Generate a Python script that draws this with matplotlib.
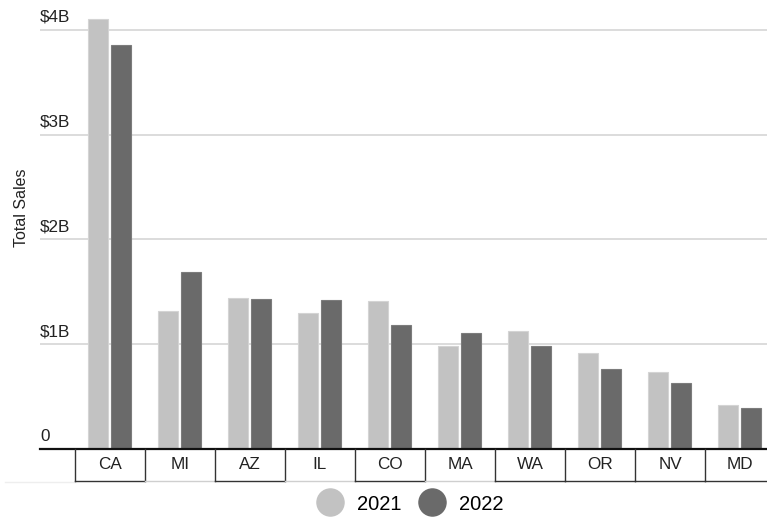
import matplotlib
matplotlib.use("Agg")
import matplotlib.pyplot as plt
from matplotlib.lines import Line2D
import matplotlib.transforms as mtransforms
import numpy as np

plt.rcParams['font.family'] = ['Liberation Sans', 'DejaVu Sans']

states = ["CA", "MI", "AZ", "IL", "CO", "MA", "WA", "OR", "NV", "MD"]
sales_2021 = [4.10, 1.32, 1.44, 1.30, 1.41, 0.98, 1.13, 0.92, 0.73, 0.42]
sales_2022 = [3.855, 1.69, 1.43, 1.42, 1.18, 1.11, 0.985, 0.765, 0.63, 0.39]
years = ["2021", "2022"]
ytick_values = [0, 1, 2, 3, 4]
ytick_labels = ["0", "$1B", "$2B", "$3B", "$4B"]

c21 = "#c2c2c2"
c22 = "#6a6a6a"

fig = plt.figure(figsize=(7.67, 5.17), dpi=100)
ax = fig.add_axes([40 / 767, 68 / 517, 727 / 767, 449 / 517])

x = np.arange(len(states))
w = 0.285
ax.bar(x - 0.165, sales_2021, width=w, color=c21, edgecolor="#d4d4d4", linewidth=0.8, zorder=3)
ax.bar(x + 0.155, sales_2022, width=w, color=c22, edgecolor="#7c7c7c", linewidth=0.8, zorder=3)

ax.set_xlim(-1, -1 + 727 / 70)
ax.set_ylim(0, 449 / 104.8)

for s in ax.spines.values():
    s.set_visible(False)
ax.set_xticks([])
ax.set_yticks([])

# gridlines and value labels drawn above each line
label_shift = mtransforms.offset_copy(ax.get_yaxis_transform(), fig=fig, x=0, y=5, units="dots")
for v, lab in zip(ytick_values, ytick_labels):
    if v > 0:
        ax.axhline(v, color="#d9d9d9", linewidth=1.3, zorder=1)
    ax.text(0.0, v, lab, transform=label_shift,
            ha="left", va="bottom", fontsize=12.3, color="#222222")

ax.axhline(0, color="#111111", linewidth=1.6, zorder=4, clip_on=False)

# category boxes under the axis
trans = ax.get_xaxis_transform()
box_bottom = -31.5 / 449
light_bottom = {"MI", "IL", "MA"}
for i, st in enumerate(states):
    ax.plot([i - 0.5, i - 0.5], [0, box_bottom], transform=trans, color="#333333",
            linewidth=1.0, clip_on=False, zorder=4)
    ax.plot([i - 0.5, i + 0.5], [box_bottom, box_bottom], transform=trans,
            color="#cfcfcf" if st in light_bottom else "#333333",
            linewidth=1.0, clip_on=False, zorder=4)
    ax.text(i, box_bottom / 2, st, transform=trans, ha="center", va="center",
            fontsize=12.3, color="#222222", clip_on=False)
ax.plot([-1.5, -0.5], [box_bottom - 0.003, box_bottom - 0.003], transform=trans,
        color="#eeeeee", linewidth=1.0, clip_on=False, zorder=2)

fig.text(22 / 767, 1 - 208 / 517, "Total Sales", rotation=90, ha="center", va="center",
         fontsize=11.5, color="#222222")

handles = [Line2D([], [], linestyle="none", marker="o", markersize=19.5, color=c21),
           Line2D([], [], linestyle="none", marker="o", markersize=19.5, color=c22)]
fig.legend(handles, years, loc="center", bbox_to_anchor=(411 / 767, 13 / 517),
           ncol=2, frameon=False, fontsize=14.5, handletextpad=0.75,
           columnspacing=0.9, handlelength=1.2, borderpad=0)

fig.savefig("out.png", dpi=100)
